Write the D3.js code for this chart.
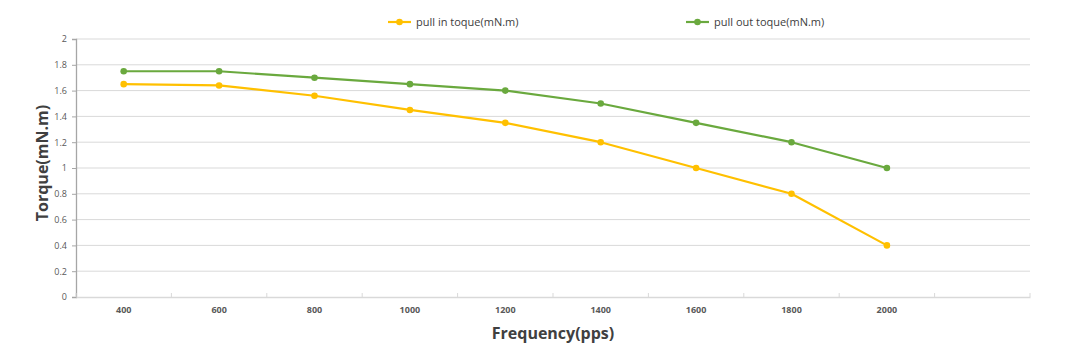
<!DOCTYPE html>
<html><head><meta charset="utf-8">
<script src="https://cdn.jsdelivr.net/npm/d3@7"></script>
<style>body{margin:0;background:#fff;}svg{display:block;}</style>
</head><body>
<svg id="c" width="1076" height="361"></svg>
<script>
const categories = ["400","600","800","1000","1200","1400","1600","1800","2000",""];
const pullIn = [1.65,1.64,1.56,1.45,1.35,1.2,1.0,0.8,0.4];
const pullOut = [1.75,1.75,1.7,1.65,1.6,1.5,1.35,1.2,1.0];
const yTicks = [0,0.2,0.4,0.6,0.8,1,1.2,1.4,1.6,1.8,2];
const seriesNames = ["pull in toque(mN.m)","pull out toque(mN.m)"];
const colors = ["#FFC000","#6AA93E"];

const svg = d3.select("#c");
const L=76,R=1030,T=39,B=297;
const x = d3.scaleBand().domain(categories.map((d,i)=>i)).range([L,R]);
const y = d3.scaleLinear().domain([0,2]).range([B,T]);
const font = "'Open Sans', 'Liberation Sans', sans-serif";

// gridlines
svg.append("g").selectAll("line").data(yTicks.filter(d=>d>0)).join("line")
  .attr("x1",L).attr("x2",R).attr("y1",d=>y(d)).attr("y2",d=>y(d))
  .attr("stroke","#d9d9d9").attr("stroke-width",1);

// y axis
const ya = svg.append("g").attr("transform",`translate(${L},0)`)
  .call(d3.axisLeft(y).tickValues(yTicks).tickSize(4).tickPadding(5).tickFormat(d=>d3.format("~g")(d)));
ya.select(".domain").attr("stroke","#a6a6a6").attr("stroke-width",1.3);
ya.selectAll(".tick line").attr("stroke","#a6a6a6");
ya.selectAll("text").attr("font-family",font).attr("font-size",9).attr("fill","#595959");

// x axis
const xa = svg.append("g").attr("transform",`translate(0,${B})`)
  .call(d3.axisBottom(x).tickFormat(i=>categories[i]).tickSize(0).tickPadding(10));
xa.select(".domain").attr("stroke","#d9d9d9").attr("stroke-width",1.3);
xa.selectAll("text").attr("font-family",font).attr("font-size",9).attr("font-weight","bold").attr("fill","#595959");
// band boundary ticks (inward)
svg.append("g").selectAll("line").data(d3.range(categories.length+1)).join("line")
  .attr("x1",i=>L+i*x.step()).attr("x2",i=>L+i*x.step())
  .attr("y1",B).attr("y2",B-4).attr("stroke","#d9d9d9").attr("stroke-width",1);

const cx = i=>x(i)+x.bandwidth()/2;
const line = d3.line().x((d,i)=>cx(i)).y(d=>y(d));
[pullIn,pullOut].forEach((s,k)=>{
  const g = svg.append("g");
  g.append("path").datum(s).attr("d",line).attr("fill","none")
    .attr("stroke",colors[k]).attr("stroke-width",2.2).attr("stroke-linejoin","round");
  g.selectAll("circle").data(s).join("circle")
    .attr("cx",(d,i)=>cx(i)).attr("cy",d=>y(d)).attr("r",3.3).attr("fill",colors[k]);
});

// legend
const legX=[388,686];
seriesNames.forEach((n,k)=>{
  const g = svg.append("g").attr("transform",`translate(${legX[k]},22)`);
  g.append("line").attr("x1",0).attr("x2",23).attr("stroke",colors[k]).attr("stroke-width",2.2);
  g.append("circle").attr("cx",11.5).attr("r",3.3).attr("fill",colors[k]);
  g.append("text").attr("x",28).attr("y",4).attr("font-family",font).attr("font-size",11)
    .attr("fill","#404040").text(n);
});

// axis titles
svg.append("text").attr("transform","translate(48,163) rotate(-90)").attr("text-anchor","middle")
  .attr("font-family",font).attr("font-size",16).attr("font-weight","bold").attr("fill","#404040")
  .text("Torque(mN.m)");
svg.append("text").attr("x",553).attr("y",339).attr("text-anchor","middle")
  .attr("font-family",font).attr("font-size",16).attr("font-weight","bold").attr("fill","#404040")
  .text("Frequency(pps)");
</script>
</body></html>
